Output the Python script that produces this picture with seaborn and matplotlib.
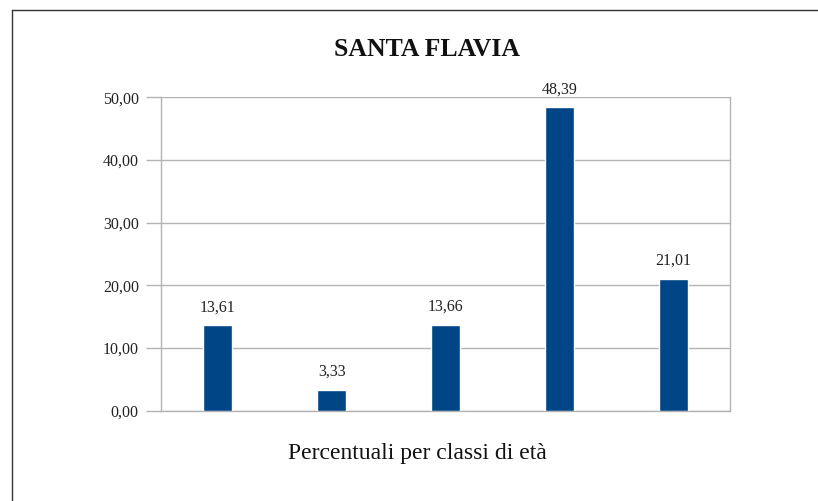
import matplotlib
matplotlib.use("Agg")
import matplotlib.pyplot as plt
import seaborn as sns
import pandas as pd
from matplotlib.lines import Line2D

# Age-class percentages for Santa Flavia
classi = ["classe 1", "classe 2", "classe 3", "classe 4", "classe 5"]
percentuali = [13.61, 3.33, 13.66, 48.39, 21.01]
y_ticks = [0, 10, 20, 30, 40, 50]

df = pd.DataFrame({"classe": classi, "percentuale": percentuali})

sns.set_theme(style="white")
plt.rcParams["font.family"] = ["Liberation Serif", "DejaVu Serif"]

fig = plt.figure(figsize=(8.18, 5.01), dpi=100)
W, H = 818, 501
ax = fig.add_axes([161 / W, 1 - 410.7 / H, (730 - 161) / W, (410.7 - 97.3) / H])

sns.barplot(data=df, x="classe", y="percentuale", color="#004586",
            width=0.255, saturation=1, ax=ax, zorder=3)

ax.set_ylim(0, 50)
ax.set_xlim(-0.5, len(classi) - 0.5)
ax.set_yticks(y_ticks)
ax.set_yticklabels([f"{v:.2f}".replace(".", ",") for v in y_ticks],
                   fontsize=11.5, color="#222222")
ax.set_xticks([])
ax.set_xlabel("")
ax.set_ylabel("")
ax.yaxis.grid(True, color="#b3b3b3", linewidth=1.0, zorder=0)
ax.tick_params(axis="y", which="major", direction="out", length=11,
               width=1.0, color="#b3b3b3", pad=5, left=True)
for side in ["left", "right", "bottom", "top"]:
    ax.spines[side].set_color("#b3b3b3")
    ax.spines[side].set_linewidth(1.0)
ax.spines["top"].set_visible(False)

for i, v in enumerate(percentuali):
    ax.annotate(f"{v:.2f}".replace(".", ","), (i, v), xytext=(0, 18),
                textcoords="offset pixels",
                ha="center", va="center", fontsize=11.5, color="#222222")

fig.text(427 / W, 1 - 50 / H, "SANTA FLAVIA", ha="center", va="center",
         fontsize=18.5, fontweight="bold", color="#111111")
fig.text(417 / W, 1 - 453 / H, "Percentuali per classi di età", ha="center",
         va="center", fontsize=17, color="#111111")

# Outer frame (top and left edges)
fig.add_artist(Line2D([12 / W, 12 / W], [0, 1 - 10 / H],
                      transform=fig.transFigure, color="#333333", linewidth=1.0))
fig.add_artist(Line2D([12 / W, 1], [1 - 10 / H, 1 - 10 / H],
                      transform=fig.transFigure, color="#333333", linewidth=1.0))

fig.savefig("out.png", dpi=100, facecolor="white")
